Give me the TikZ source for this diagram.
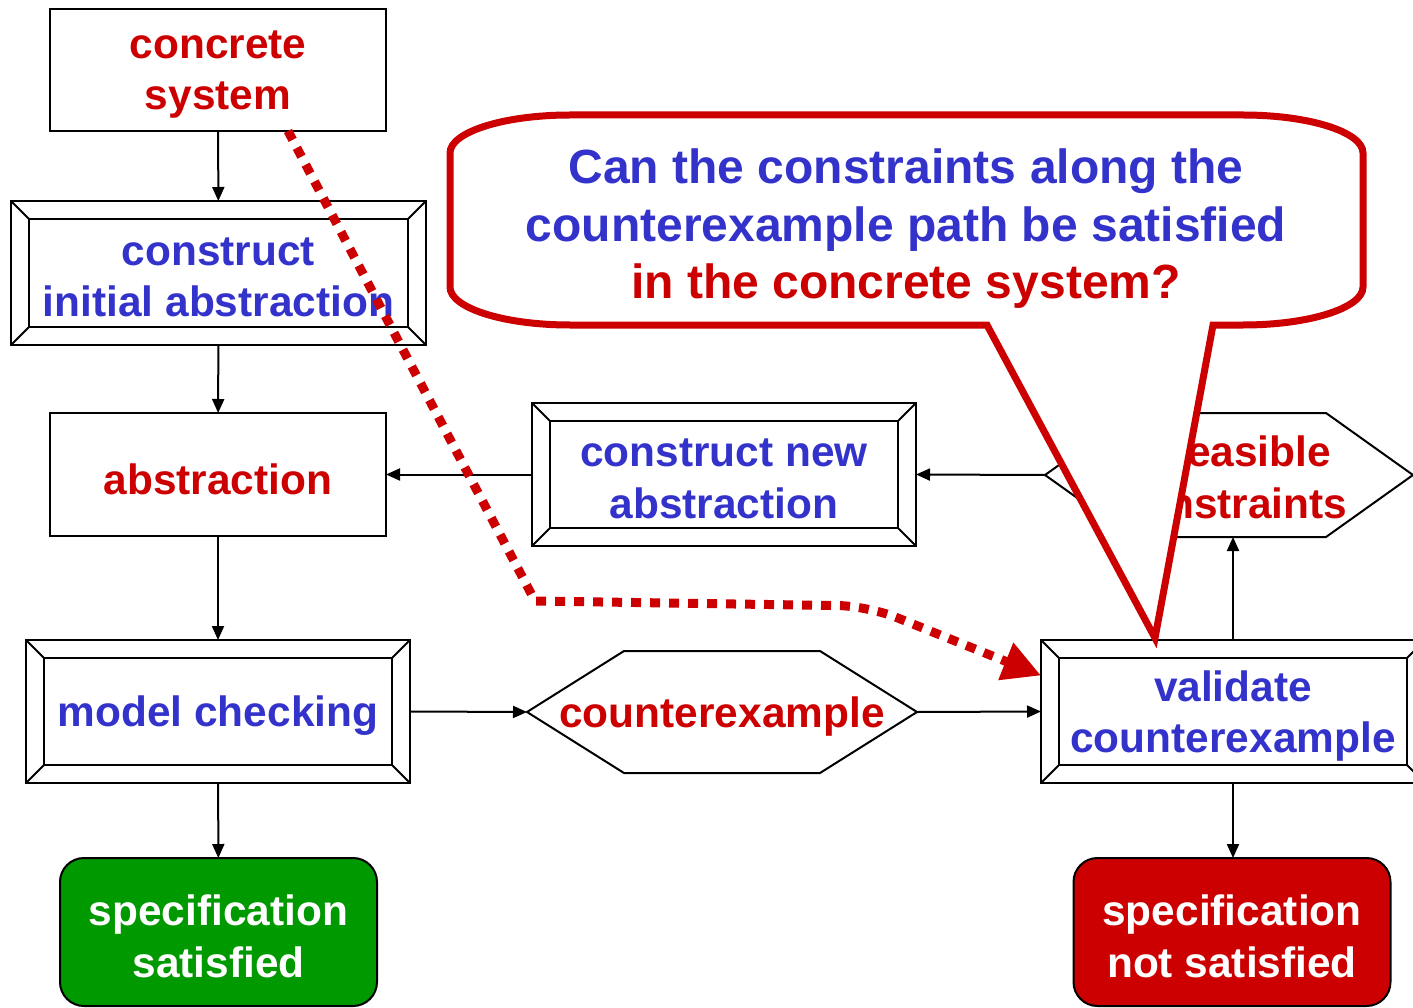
\documentclass[tikz,border=0pt]{standalone}
\usepackage{fontspec}
\setmainfont{Liberation Sans}
\usetikzlibrary{calc,arrows.meta}
\definecolor{dred}{HTML}{CC0000}
\definecolor{dblue}{HTML}{3333CC}
\definecolor{dgreen}{HTML}{009900}

\tikzset{
  txt/.style={inner sep=0pt, outer sep=0pt, align=center,
    font=\fontsize{42.4}{51.5}\selectfont\bfseries},
  % coloured text label sitting slightly below the geometric centre of its box
  inside/.style 2 args={label={[txt, text=#1, yshift=-4.5pt]center:#2}},
  box/.style={txt, draw=black, fill=white, line width=2pt, rectangle},
  hexnode/.style={txt, draw=none, minimum height=122pt},
  result/.style={txt, line width=2pt, draw=black, rounded corners=24pt,
    minimum width=317pt, minimum height=148pt},
  frame/.style={line width=2pt, draw=black},
  flow/.style={line width=2pt, draw=black, -{Triangle[length=14pt,width=12pt]}},
  trace/.style={line width=9pt, draw=dred, dash pattern=on 10pt off 9pt,
    -{Triangle[length=38pt,width=38pt]}},
  callout/.style={line width=7pt, draw=dred, fill=white, line join=miter},
  corner/.style={x radius=120, y radius=38},
}

% inner frame and corner bevels of a framed box
\newcommand\bevel[1]{%
  \draw[frame] ($(#1.north west)+(18,18)$) rectangle ($(#1.south east)+(-18,-18)$);
  \draw[frame] (#1.north west) -- +(18,18)
               (#1.north east) -- +(-18,18)
               (#1.south west) -- +(18,-18)
               (#1.south east) -- +(-18,-18);
}
% hexagon outline around a node
\newcommand\hexagon[2]{%
  \draw[frame] (#1.west) -- ($(#1.north west)+(#2,0)$) -- ($(#1.north east)+(-#2,0)$)
    -- (#1.east) -- ($(#1.south east)+(-#2,0)$) -- ($(#1.south west)+(#2,0)$) -- cycle;
}

\begin{document}
\begin{tikzpicture}[x=1pt,y=-1pt]
\path[use as bounding box, clip] (0,0) rectangle (1413,1008);
\fill[white] (0,0) rectangle (1413,1008);

% left column
\node[box, minimum width=336pt, minimum height=122pt,
  inside={dred}{concrete\\system}] (cs) at (218,70) {};
\node[box, minimum width=415pt, minimum height=144pt,
  inside={dblue}{construct\\initial abstraction}] (ia) at (218.5,273) {};
\bevel{ia}
\node[box, minimum width=336pt, minimum height=123pt,
  inside={dred}{abstraction}] (ab) at (218,474.5) {};
\node[box, minimum width=384pt, minimum height=143pt,
  inside={dblue}{model checking}] (mc) at (218,711.5) {};
\bevel{mc}
\node[result, fill=dgreen, inside={white}{specification\\satisfied}] (ok) at (218.5,932) {};

% middle and right
\node[box, minimum width=384pt, minimum height=143pt,
  inside={dblue}{construct new\\abstraction}] (na) at (724,474.5) {};
\bevel{na}
\node[hexnode, minimum width=390pt, inside={dred}{counterexample}] (cx) at (722,712) {};
\hexagon{cx}{97}
\node[box, minimum width=384pt, minimum height=143pt,
  inside={dblue}{validate\\counterexample}] (vc) at (1233,711.5) {};
\bevel{vc}
\node[hexnode, minimum width=368pt, minimum height=124pt,
  label={[txt, text=dred, yshift=-2.5pt, xshift=4pt]center:infeasible\\constraints}] (ic) at (1229,475) {};
\hexagon{ic}{87}
\node[result, fill=dred, inside={white}{specification\\not satisfied}] (ko) at (1232,932) {};

% flow arrows
\draw[flow] (cs) -- (ia);
\draw[flow] (ia) -- (ab);
\draw[flow] (ab) -- (mc);
\draw[flow] (mc) -- (ok);
\draw[flow] (mc.east) -- (cx.west);
\draw[flow] (cx.east) -- (vc.west);
\draw[flow] (vc.north) -- (vc.north |- ic.south);
\draw[flow] (vc.south) -- (vc.south |- ko.north);
\draw[flow] (ic.west) -- (na.east);
\draw[flow] (na.west) -- (ab.east);

% concrete trace
\coordinate (t0) at ($(cs.south)+(70,0)$);
\coordinate (t1) at (535,601);
\coordinate (t2) at (868,606);
\draw[trace] (t0) -- (t1) [rounded corners=30pt] -- (t2) -- ($(vc.west)+(0,-36)$);

% question balloon (y grows downward, so arc angle 90 points down)
\coordinate (q0) at (987,325);
\coordinate (q1) at (1213,325);
\coordinate (qtip) at (1155,638);
\draw[callout] (q0) -- (570,325) arc[start angle=90, end angle=180, corner]
  -- (450,153) arc[start angle=180, end angle=270, corner]
  -- (1243,115) arc[start angle=270, end angle=360, corner]
  -- (1363,287) arc[start angle=0, end angle=90, corner]
  -- (q1) -- (qtip) -- cycle;
\node[txt, font=\fontsize{48}{57.5}\selectfont\bfseries] (q) at (906,229)
  {\textcolor{dblue}{Can the constraints along the}\\
   \textcolor{dblue}{counterexample path be satisfied}\\
   \textcolor{dred}{in the concrete system?}};
\end{tikzpicture}
\end{document}
